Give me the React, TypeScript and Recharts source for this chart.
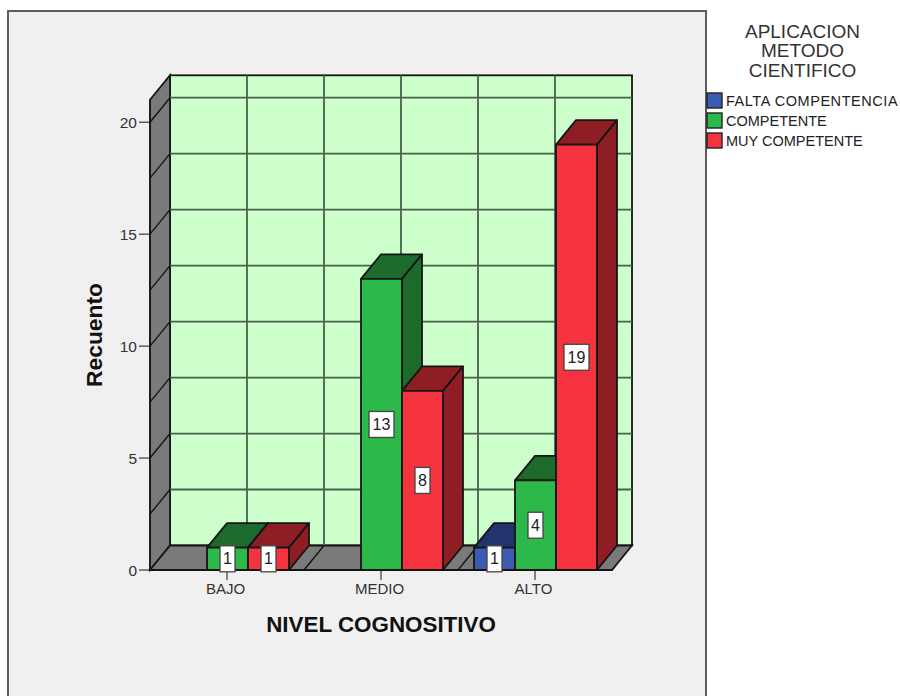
import React from "react";
import { BarChart, Bar, XAxis, YAxis, LabelList, usePlotArea } from "recharts";

// Recuento por nivel cognositivo y aplicación del método científico
const categories = ["BAJO", "MEDIO", "ALTO"];
const faltaCompetencia = [null, null, 1];
const competente = [1, 13, 4];
const muyCompetente = [1, 8, 19];

const yTicks = [0, 5, 10, 15, 20];
const gridValues = [0, 2.5, 5, 7.5, 10, 12.5, 15, 17.5, 20];
const yMax = 21;
const verticalDivisions = [0, 1, 2, 3, 4, 5, 6];

const seriesNames = ["FALTA COMPENTENCIA", "COMPETENTE", "MUY COMPETENTE"];
const legendTitle = ["APLICACION", "METODO", "CIENTIFICO"];
const fronts = ["#3c5cb4", "#2db84a", "#f4333e"];
const sides = ["#22346e", "#1c6b2c", "#8f1d24"];

const rows = categories.map((name, i) => ({
  name,
  falta: faltaCompetencia[i],
  competente: competente[i],
  muy: muyCompetente[i],
}));

const DX = 20;
const DY = -24.5;
const FONT = '"Liberation Sans", Arial, sans-serif';
const OUTLINE = "#151515";

// Paredes y suelo de la caja 3D, más títulos y leyenda
function Scene() {
  const plot = usePlotArea();
  if (!plot) return null;
  const { x, y, width, height } = plot;
  const yOf = (v: number) => y + height * (1 - v / yMax);
  const xOf = (k: number) => x + (width * k) / 6;
  const grid = "#47614c";
  return (
    <g>
      <rect x={8} y={11} width={698} height={700} fill="#f0f0f0" stroke="#5c5c5c" strokeWidth={2} />
      <rect x={x + DX} y={yOf(yMax) + DY} width={width} height={height} fill="#ccffcc" stroke={OUTLINE} strokeWidth={1.8} />
      <polygon
        points={`${x},${yOf(yMax)} ${x + DX},${yOf(yMax) + DY} ${x + DX},${yOf(0) + DY} ${x},${yOf(0)}`}
        fill="#7a7a7a"
        stroke={OUTLINE}
        strokeWidth={1.8}
      />
      <polygon
        points={`${x},${yOf(0)} ${x + width},${yOf(0)} ${x + width + DX},${yOf(0) + DY} ${x + DX},${yOf(0) + DY}`}
        fill="#7a7a7a"
        stroke={OUTLINE}
        strokeWidth={1.8}
      />
      {gridValues.slice(1).map((v) => (
        <g key={v}>
          <line x1={x + DX} x2={x + DX + width} y1={yOf(v) + DY} y2={yOf(v) + DY} stroke={grid} strokeWidth={1.8} />
          <line x1={x} x2={x + DX} y1={yOf(v)} y2={yOf(v) + DY} stroke={OUTLINE} strokeWidth={1.4} />
        </g>
      ))}
      {verticalDivisions.slice(1, 6).map((k) => (
        <g key={k}>
          <line x1={xOf(k) + DX} x2={xOf(k) + DX} y1={yOf(yMax) + DY} y2={yOf(0) + DY} stroke={grid} strokeWidth={1.8} />
          <line x1={xOf(k)} x2={xOf(k) + DX} y1={yOf(0)} y2={yOf(0) + DY} stroke={OUTLINE} strokeWidth={1.4} />
        </g>
      ))}
      <text x={381} y={632} textAnchor="middle" fontFamily={FONT} fontWeight="bold" fontSize={22.4} fill="#111">
        NIVEL COGNOSITIVO
      </text>
      <text
        transform="translate(102,335) rotate(-90)"
        textAnchor="middle"
        fontFamily={FONT}
        fontWeight="bold"
        fontSize={22.8}
        fill="#111"
      >
        Recuento
      </text>
      {legendTitle.map((line, i) => (
        <text key={line} x={802.5} y={37.5 + i * 19.5} textAnchor="middle" fontFamily={FONT} fontSize={19} fill="#333">
          {line}
        </text>
      ))}
      {seriesNames.map((name, i) => (
        <g key={name}>
          <rect x={707} y={93 + i * 20} width={15} height={15} fill={fronts[i]} stroke="#222" strokeWidth={1.4} />
          <text x={726} y={106 + i * 20} fontFamily={FONT} fontSize={14.5} letterSpacing={i === 0 ? 0.55 : 0} fill="#222">
            {name}
          </text>
        </g>
      ))}
    </g>
  );
}

// Barra con cara frontal, superior y lateral
function boxShape(index: number) {
  return function Box(props: any) {
    const { x, y, width, height } = props;
    if (!height || height <= 0) return null;
    const r = x + width;
    const b = y + height;
    return (
      <g stroke={OUTLINE} strokeWidth={1.8} strokeLinejoin="round">
        <polygon points={`${x},${y} ${x + DX},${y + DY} ${r + DX},${y + DY} ${r},${y}`} fill={sides[index]} />
        <polygon points={`${r},${y} ${r + DX},${y + DY} ${r + DX},${b + DY} ${r},${b}`} fill={sides[index]} />
        <rect x={x} y={y} width={width} height={height} fill={fronts[index]} />
      </g>
    );
  };
}

// Etiqueta blanca con el recuento, centrada en la cara frontal
function ValueCard(props: any) {
  const { x, y, width, height, value } = props;
  if (value === null || value === undefined) return null;
  const w = String(value).length > 1 ? 25 : 15;
  const h = 26;
  const cx = x + width / 2;
  const cy = y + height / 2;
  return (
    <g>
      <rect x={cx - w / 2} y={cy - h / 2} width={w} height={h} fill="#ffffff" stroke="#444" strokeWidth={1.3} />
      <text x={cx} y={cy + 5.5} textAnchor="middle" fontFamily={FONT} fontSize={16} fill="#222">
        {value}
      </text>
    </g>
  );
}

export default function App() {
  return (
    <div style={{ position: "absolute", left: 0, top: 0, width: 900, height: 696, overflow: "hidden", background: "#fff" }}>
      <BarChart
        width={900}
        height={696}
        data={rows}
        margin={{ top: 99.8, right: 288, bottom: 86, left: 90 }}
        barCategoryGap={16}
        barGap={0}
      >
        <Scene />
        <XAxis
          dataKey="name"
          height={40}
          tickSize={10}
          tickMargin={3}
          stroke={OUTLINE}
          tick={{ fontFamily: FONT, fontSize: 15, fill: "#333", dx: -1.5 }}
        />
        <YAxis
          width={60}
          domain={[0, yMax]}
          ticks={yTicks}
          tickSize={11}
          tickMargin={2}
          stroke={OUTLINE}
          tick={{ fontFamily: FONT, fontSize: 15.5, fill: "#333" }}
        />
        <Bar dataKey="falta" isAnimationActive={false} shape={boxShape(0)}>
          <LabelList dataKey="falta" content={ValueCard} />
        </Bar>
        <Bar dataKey="competente" isAnimationActive={false} shape={boxShape(1)}>
          <LabelList dataKey="competente" content={ValueCard} />
        </Bar>
        <Bar dataKey="muy" isAnimationActive={false} shape={boxShape(2)}>
          <LabelList dataKey="muy" content={ValueCard} />
        </Bar>
      </BarChart>
    </div>
  );
}
